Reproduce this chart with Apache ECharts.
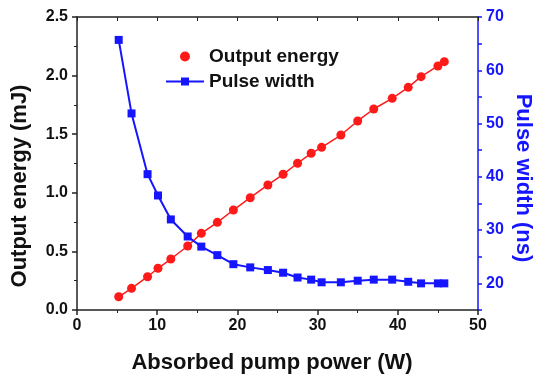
<!DOCTYPE html>
<html><head><meta charset="utf-8">
<script src="https://cdn.jsdelivr.net/npm/echarts@6/dist/echarts.min.js"></script>
<style>html,body{margin:0;padding:0;background:#fff}#c{width:537px;height:382px}</style>
</head><body><div id="c"></div>
<script>
var power = [5.2, 6.8, 8.8, 10.1, 11.7, 13.8, 15.5, 17.5, 19.5, 21.6, 23.8, 25.7, 27.5, 29.2, 30.5, 32.9, 35.0, 37.0, 39.3, 41.3, 42.9, 45.0, 45.8];
var energy = [0.113, 0.185, 0.284, 0.356, 0.435, 0.546, 0.654, 0.748, 0.853, 0.958, 1.067, 1.158, 1.252, 1.337, 1.388, 1.493, 1.613, 1.715, 1.806, 1.900, 1.991, 2.082, 2.119];
var pulseWidth = [65.7, 51.9, 40.5, 36.5, 32.0, 28.8, 26.9, 25.3, 23.6, 23.0, 22.5, 22.0, 21.1, 20.7, 20.2, 20.2, 20.5, 20.7, 20.7, 20.3, 20.0, 20.0, 20.0];
var xTitle = 'Absorbed pump power (W)';
var yLeftTitle = 'Output energy (mJ)';
var yRightTitle = 'Pulse width (ns)';
var seriesNames = ['Output energy', 'Pulse width'];

var FONT = '"Liberation Sans", Arial, sans-serif';
var RED = '#ff1a1a', BLUE = '#1515ff';
var chart = echarts.init(document.getElementById('c'));
function pairs(xs, ys){ return xs.map(function(x,i){ return [x, ys[i]]; }); }
var lblStyle = {fontFamily: FONT, fontWeight: 'bold', fontSize: 16, color: '#111'};
chart.setOption({
  animation: false,
  backgroundColor: '#fff',
  grid: {left: 77, top: 17, right: 59, bottom: 72, containLabel: false},
  legend: {
    orient: 'vertical', left: 160, top: 42, itemGap: 6, itemWidth: 38, itemHeight: 10,
    textStyle: {fontFamily: FONT, fontWeight: 'bold', fontSize: 19, color: '#111'},
    data: [{name: seriesNames[0], icon: 'circle', itemStyle: {color: RED}}, {name: seriesNames[1]}]
  },
  xAxis: [{
    type: 'value', min: 0, max: 50, interval: 10, position: 'bottom',
    axisLine: {onZero: false, lineStyle: {color: '#222', width: 1.5}},
    axisTick: {length: 5, lineStyle: {color: '#222', width: 1.5}},
    minorTick: {show: true, splitNumber: 2, length: 3, lineStyle: {color: '#222'}},
    splitLine: {show: false},
    axisLabel: Object.assign({margin: 8}, lblStyle)
  }, {
    type: 'value', min: 0, max: 50, interval: 5, position: 'top',
    axisLine: {onZero: false, lineStyle: {color: '#222', width: 1.5}},
    axisTick: {inside: true, length: 4, lineStyle: {color: '#222'}},
    axisLabel: {show: false}, splitLine: {show: false}
  }],
  yAxis: [{
    type: 'value', min: 0, max: 2.5, interval: 0.5, position: 'left',
    axisLine: {show: true, onZero: false, lineStyle: {color: '#222', width: 1.5}},
    axisTick: {show: true, length: 5, lineStyle: {color: '#222', width: 1.5}},
    minorTick: {show: true, splitNumber: 2, length: 3, lineStyle: {color: '#222'}},
    splitLine: {show: false},
    axisLabel: Object.assign({margin: 9, formatter: function(v){ return v.toFixed(1); }}, lblStyle)
  }, {
    type: 'value', min: 15, max: 70, interval: 5, position: 'right',
    axisLine: {show: true, onZero: false, lineStyle: {color: BLUE, width: 1.5}},
    axisTick: {show: true, length: 4, lineStyle: {color: BLUE, width: 1.5}},
    splitLine: {show: false},
    axisLabel: Object.assign({}, lblStyle, {color: BLUE, margin: 8,
      formatter: function(v){ return (v % 10 === 0) ? String(v) : ''; }})
  }],
  graphic: [
    {type: 'text', x: 272, y: 363, style: {text: xTitle, font: 'bold 22px ' + FONT, fill: '#111', textAlign: 'center', textVerticalAlign: 'middle'}},
    {type: 'text', x: 20, y: 186, rotation: Math.PI / 2, style: {text: yLeftTitle, font: 'bold 22px ' + FONT, fill: '#111', textAlign: 'center', textVerticalAlign: 'middle'}},
    {type: 'text', x: 523, y: 178, rotation: -Math.PI / 2, style: {text: yRightTitle, font: 'bold 22px ' + FONT, fill: BLUE, textAlign: 'center', textVerticalAlign: 'middle'}}
  ],
  series: [{
    name: seriesNames[0], type: 'line', xAxisIndex: 0, yAxisIndex: 0,
    data: pairs(power, energy), symbol: 'circle', symbolSize: 9,
    itemStyle: {color: RED}, lineStyle: {color: RED, width: 1.5}, z: 3
  }, {
    name: seriesNames[1], type: 'line', xAxisIndex: 0, yAxisIndex: 1,
    data: pairs(power, pulseWidth), symbol: 'rect', symbolSize: 8,
    itemStyle: {color: BLUE}, lineStyle: {color: BLUE, width: 2}, z: 4
  }]
});
</script></body></html>
